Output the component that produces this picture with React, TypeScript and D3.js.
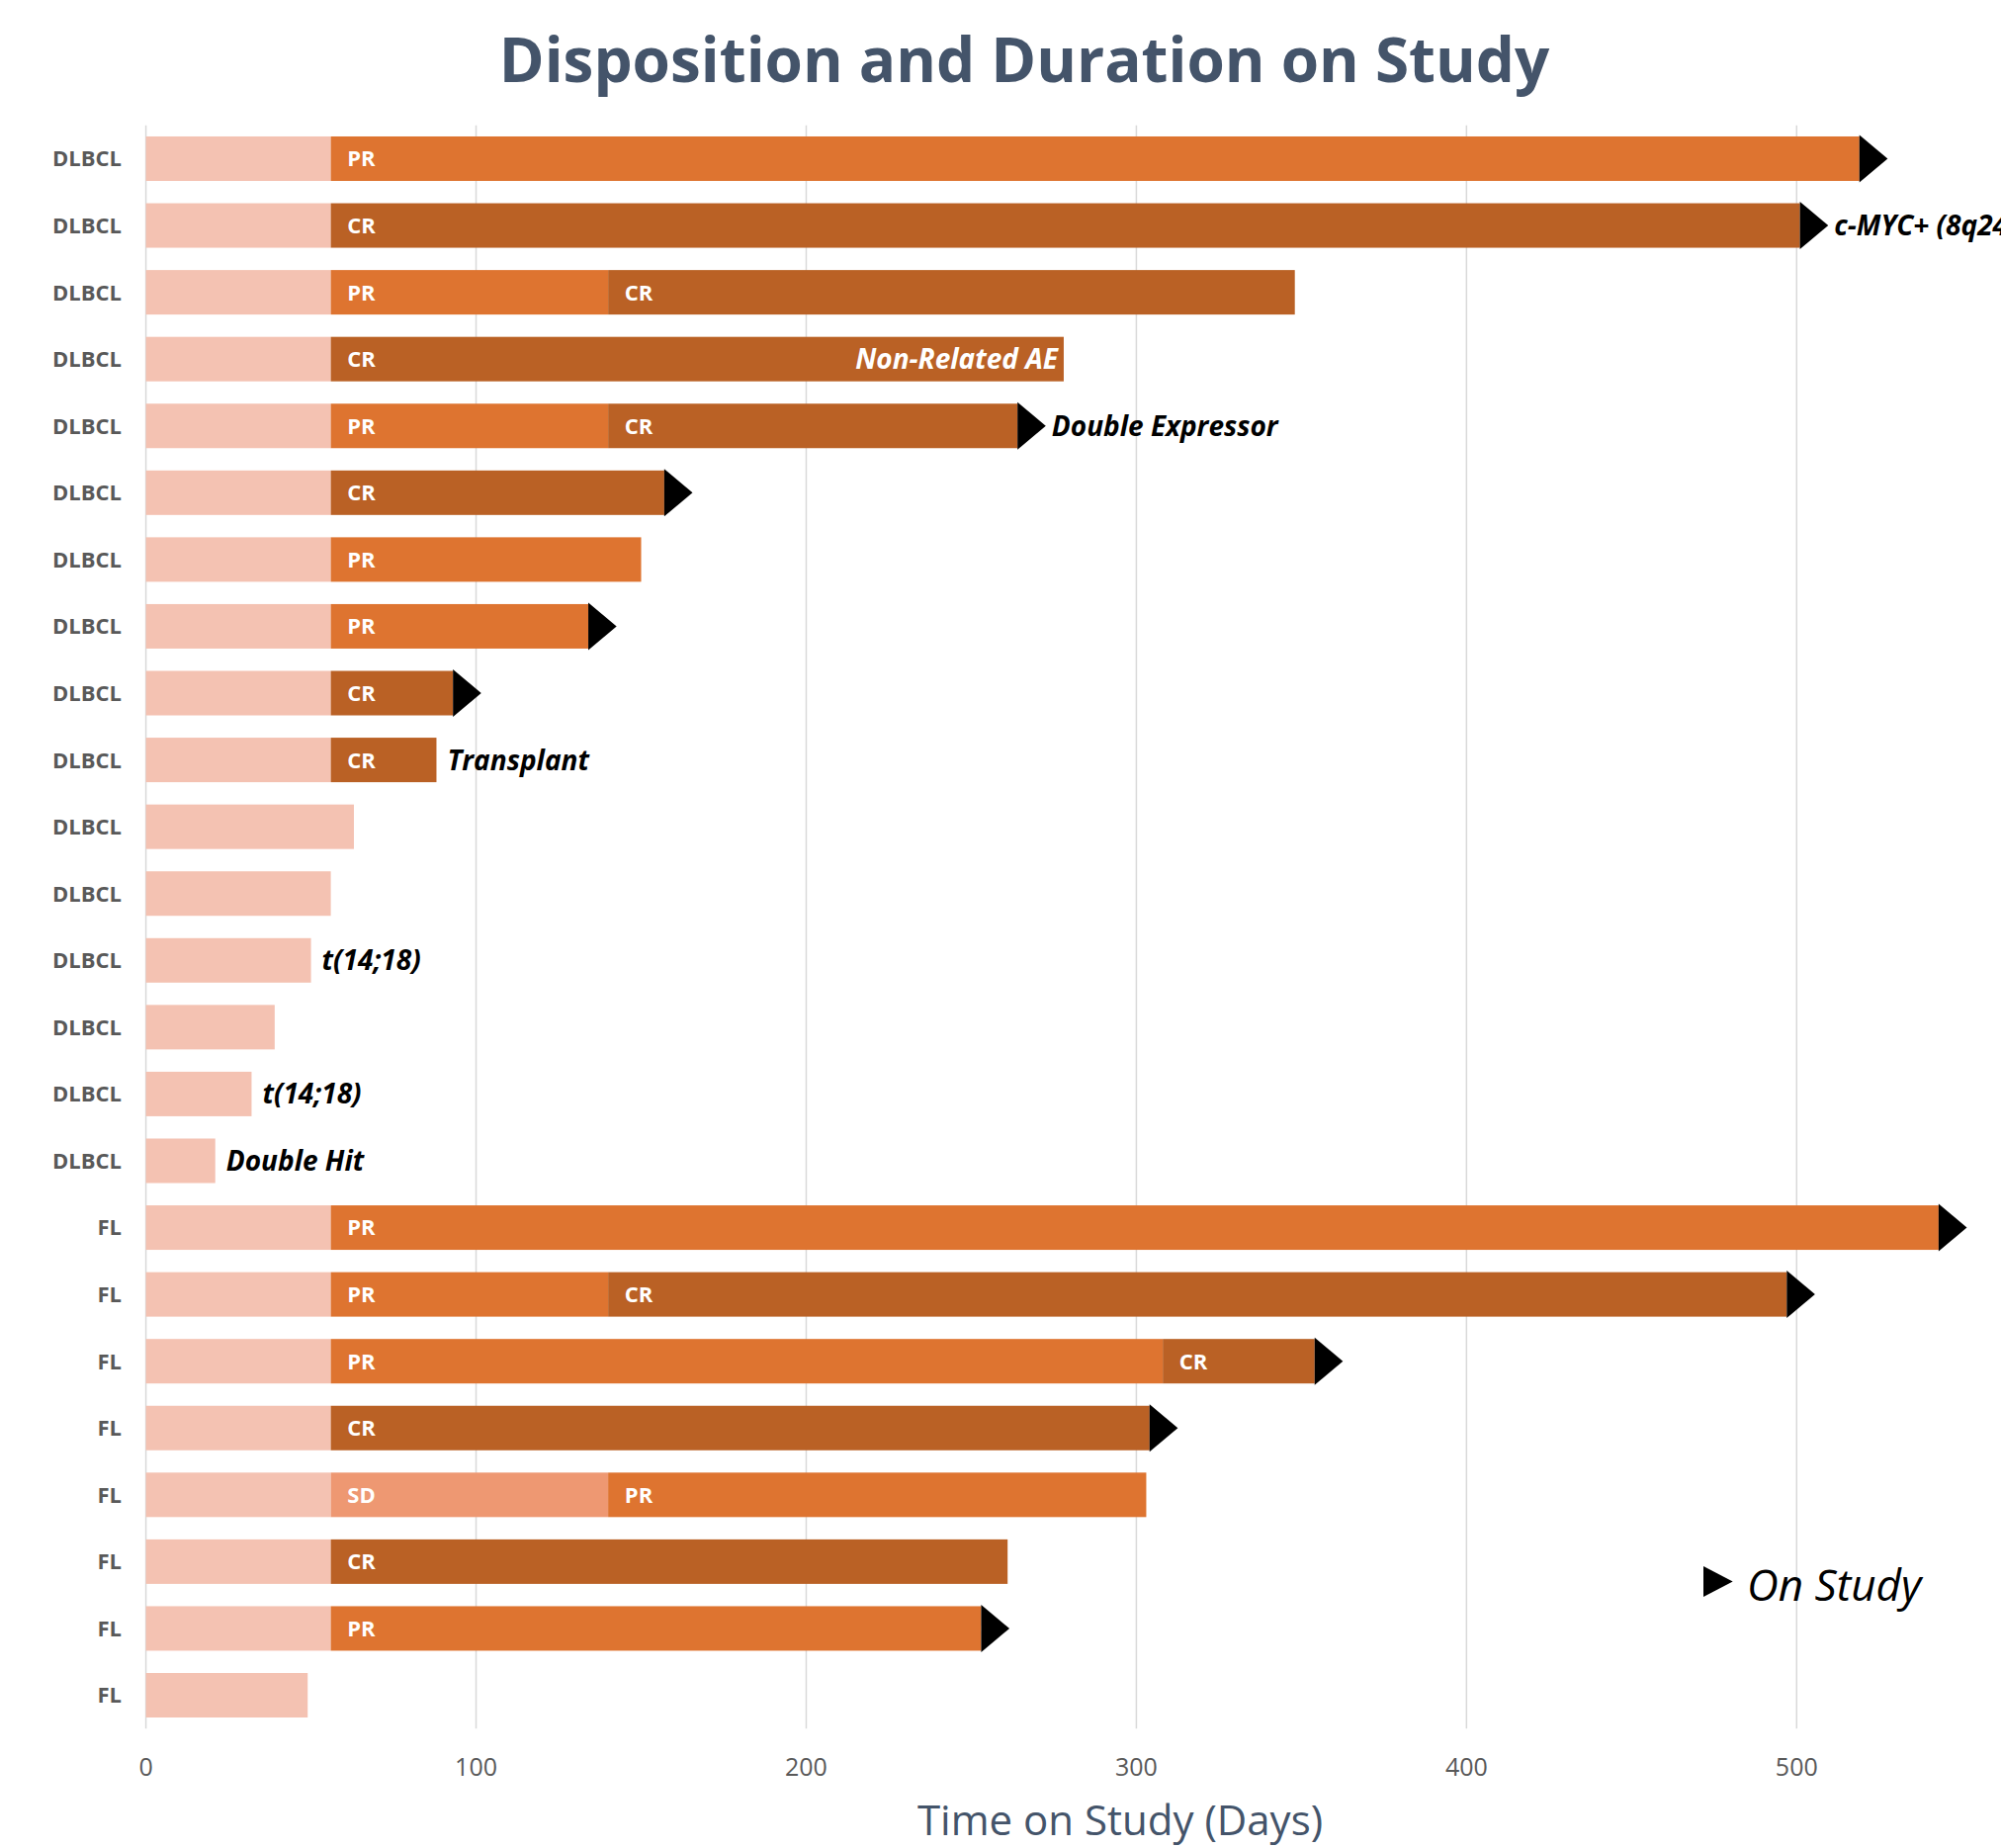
import React from "react";
import * as d3 from "d3";

const W = 2024;
const H = 1869;

const histology = [
  "DLBCL","DLBCL","DLBCL","DLBCL","DLBCL","DLBCL","DLBCL","DLBCL",
  "DLBCL","DLBCL","DLBCL","DLBCL","DLBCL","DLBCL","DLBCL","DLBCL",
  "FL","FL","FL","FL","FL","FL","FL","FL",
];
const screeningEnd = [56,56,56,56,56,56,56,56,56,56,63,56,50,39,32,21,56,56,56,56,56,56,56,49];
const response1 = ["PR","CR","PR","CR","PR","CR","PR","PR","CR","CR","","","","","","","PR","PR","PR","CR","SD","CR","PR",""];
const response1End: (number | null)[] = [519,501,140,278,140,157,150,134,93,88,null,null,null,null,null,null,543,140,308,304,140,261,253,null];
const response2 = ["","","CR","","CR","","","","","","","","","","","","","CR","CR","","PR","","",""];
const response2End: (number | null)[] = [null,null,348,null,264,null,null,null,null,null,null,null,null,null,null,null,null,497,354,null,303,null,null,null];
const onStudy = [true,true,false,false,true,true,false,true,true,false,false,false,false,false,false,false,true,true,true,true,false,false,true,false];
const annotations = ["","c-MYC+ (8q24)","","Non-Related AE","Double Expressor","","","","","Transplant","","","t(14;18)","","t(14;18)","Double Hit","","","","","","","",""];
const xTicks = [0,100,200,300,400,500];

const colors: Record<string, string> = {
  screen: "#F4C2B2",
  SD: "#EE9872",
  PR: "#DE7430",
  CR: "#BA6125",
};

const FONT = "'Open Sans', 'Noto Sans', sans-serif";

export default function App() {
  const x = d3.scaleLinear().domain([0, 500]).range([147.6, 1817.3]);
  const y = d3
    .scaleBand<number>()
    .domain(d3.range(histology.length))
    .range([126.7, 1748.3])
    .paddingInner(0.334)
    .paddingOuter(0.167);
  const bh = y.bandwidth();
  const arrowW = 28.6;
  const arrowHalf = 24;

  return (
    <svg
      width={W}
      height={H}
      style={{ position: "absolute", left: 0, top: 0, background: "#fff" }}
      fontFamily={FONT}
    >
      <rect x={0} y={0} width={W} height={H} fill="#fff" />
      <text
        x={1036}
        y={83}
        textAnchor="middle"
        fontSize={62}
        fontWeight={700}
        fill="#44546A"
      >
        Disposition and Duration on Study
      </text>

      {xTicks.map((t) => (
        <g key={t}>
          <line
            x1={x(t)}
            x2={x(t)}
            y1={126.7}
            y2={1748.3}
            stroke="#D9D9D9"
            strokeWidth={1.5}
          />
          <text
            x={x(t)}
            y={1796}
            textAnchor="middle"
            fontSize={25}
            fill="#595959"
          >
            {t}
          </text>
        </g>
      ))}

      {histology.map((h, i) => {
        const top = y(i)!;
        const cy = top + bh / 2;
        const segs: { s: number; e: number; c: string; label: string }[] = [];
        segs.push({ s: 0, e: screeningEnd[i], c: colors.screen, label: "" });
        let end = screeningEnd[i];
        if (response1End[i] != null) {
          segs.push({ s: end, e: response1End[i]!, c: colors[response1[i]], label: response1[i] });
          end = response1End[i]!;
        }
        if (response2End[i] != null) {
          segs.push({ s: end, e: response2End[i]!, c: colors[response2[i]], label: response2[i] });
          end = response2End[i]!;
        }
        const xe = x(end);
        const ann = annotations[i];
        const inside = ann === "Non-Related AE";
        return (
          <g key={i}>
            <text
              x={123}
              y={cy}
              dy="0.36em"
              textAnchor="end"
              fontSize={22}
              fontWeight={700}
              fill="#595959"
            >
              {h}
            </text>
            {segs.map((sg, k) => (
              <g key={k}>
                <rect
                  x={x(sg.s)}
                  y={top}
                  width={x(sg.e) - x(sg.s)}
                  height={bh}
                  fill={sg.c}
                />
                {sg.label && (
                  <text
                    x={x(sg.s) + 16.7}
                    y={cy}
                    dy="0.36em"
                    fontSize={22}
                    fontWeight={700}
                    fill="#fff"
                  >
                    {sg.label}
                  </text>
                )}
              </g>
            ))}
            {onStudy[i] && (
              <path
                d={`M${xe},${cy - arrowHalf}L${xe + arrowW},${cy}L${xe},${cy + arrowHalf}Z`}
                fill="#000"
              />
            )}
            {ann && (
              <text
                x={inside ? xe - 6 : onStudy[i] ? xe + arrowW + 6 : xe + 11}
                y={cy}
                dy="0.36em"
                textAnchor={inside ? "end" : "start"}
                fontSize={28}
                fontWeight={700}
                fontStyle="italic"
                fill={inside ? "#fff" : "#000"}
              >
                {ann}
              </text>
            )}
          </g>
        );
      })}

      <path d="M1723,1584L1752.7,1599.5L1723,1615Z" fill="#000" />
      <text x={1767} y={1619} fontSize={44} fontStyle="italic" fill="#000">
        On Study
      </text>

      <text
        x={1133}
        y={1856}
        textAnchor="middle"
        fontSize={42}
        fill="#44546A"
      >
        Time on Study (Days)
      </text>
    </svg>
  );
}
